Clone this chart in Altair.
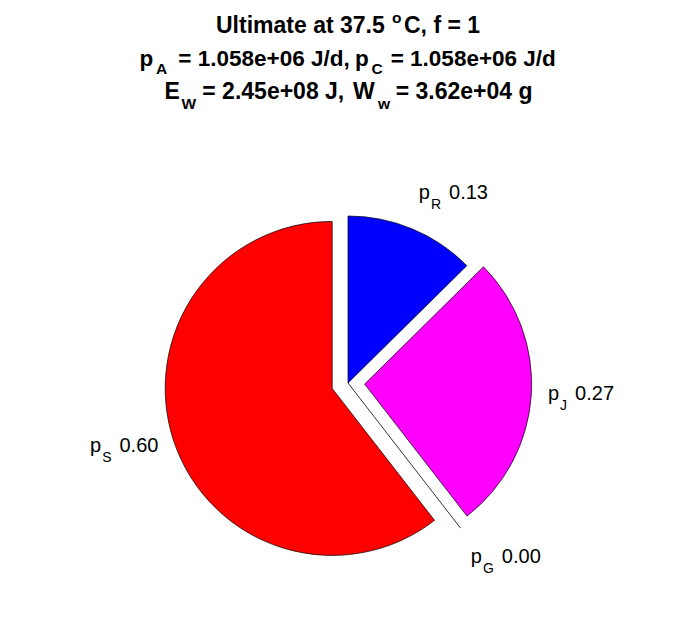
import altair as alt
import pandas as pd
import numpy as np

# ---------------- data ----------------
names = ["R", "J", "G", "S"]
fractions = [0.126, 0.269, 0.0, 0.605]
value_labels = ["0.13", "0.27", "0.00", "0.60"]
colors = ["#0000FF", "#FF00FF", "#FFFF00", "#FF0000"]
explode = [0, 1, 1, 1]

title_line1 = ["Ultimate at 37.5", "o", "C, f = 1"]
title_line2 = ["p", "A", "= 1.058e+06 J/d,", "p", "C", "= 1.058e+06 J/d"]
title_line3 = ["E", "W", "= 2.45e+08 J,", "W", "w", "= 3.62e+04 g"]

# ---------------- layout / style ----------------
W, H = 680, 600
R_PX = 167
CX, CY = 340, 375
FONT = "Liberation Sans"
LBL = 20
SUBL = 14
TFS1 = 23
TFS = 22.5
TSUB = 15.5
# Arial advance widths (em) for the subscript letters
sub_w = {"R": 0.722, "J": 0.5, "G": 0.778, "S": 0.667}

xs = alt.Scale(domain=[-CX / R_PX, (W - CX) / R_PX], nice=False, zero=False)
ys = alt.Scale(domain=[-(H - CY) / R_PX, CY / R_PX], nice=False, zero=False)

frac = np.array(fractions)
cum = np.concatenate([[0.0], np.cumsum(frac)])
t0 = cum[:-1] * 2 * np.pi
t1 = cum[1:] * 2 * np.pi
mid = (t0 + t1) / 2
ex = np.array(explode) * 0.1
cx = ex * np.sin(mid)
cy = ex * np.cos(mid)

df = pd.DataFrame(dict(name=names, t0=t0, t1=t1, cx=cx, cy=cy,
                       color=colors, frac=frac, val=value_labels,
                       ax=cx + 1.1 * np.sin(mid), ay=cy + 1.1 * np.cos(mid),
                       sx=np.sin(mid), cyy=np.cos(mid)))

layers = []

arcs = alt.Chart(df[df.frac > 0]).mark_arc(
    stroke="black", strokeWidth=0.7, radius=R_PX
).encode(
    x=alt.X("cx:Q", scale=xs, axis=None),
    y=alt.Y("cy:Q", scale=ys, axis=None),
    theta=alt.Theta("t0:Q", scale=None),
    theta2="t1:Q",
    color=alt.Color("color:N", scale=None),
)
layers.append(arcs)

zero = df[df.frac == 0].copy()
zero["x0"] = 0.0
zero["y0"] = 0.0
zero["x1"] = zero.cx + np.sin(zero.t0)
zero["y1"] = zero.cy + np.cos(zero.t0)
rule = alt.Chart(zero).mark_rule(color="black", strokeWidth=0.8).encode(
    x=alt.X("x0:Q", scale=xs, axis=None),
    y=alt.Y("y0:Q", scale=ys, axis=None),
    x2="x1:Q",
    y2="y1:Q",
)
layers.append(rule)

# ---------------- slice labels ----------------
for i, row in df.iterrows():
    d = pd.DataFrame([row])
    if row.cyy > 0.7:
        dy = -15
    elif row.cyy < -0.7:
        dy = 22
    else:
        dy = 4
    left = row.sx >= 0
    wp = 0.556 * LBL
    ws = sub_w[row["name"]] * SUBL
    wv = (0.556 * 3 + 0.278) * LBL
    gap = 8
    if left:
        pieces = [("p", LBL, 0, 0, "left"),
                  ("name", SUBL, wp + 1, 10, "left"),
                  ("val", LBL, wp + 1 + ws + gap, 0, "left")]
    else:
        pieces = [("val", LBL, 0, 0, "right"),
                  ("name", SUBL, -(wv + gap), 10, "right"),
                  ("p", LBL, -(wv + gap + ws + 1), 0, "right")]
    for field, fs, dxx, dyy, al in pieces:
        dd = d.copy()
        dd["p"] = "p"
        layers.append(
            alt.Chart(dd).mark_text(
                font=FONT, fontSize=fs, align=al, baseline="alphabetic",
                dx=dxx, dy=dy + dyy, color="black"
            ).encode(
                x=alt.X("ax:Q", scale=xs, axis=None),
                y=alt.Y("ay:Q", scale=ys, axis=None),
                text=alt.Text(f"{field}:N"),
            )
        )

# ---------------- title (rich text pieces) ----------------
def tpiece(txt, x, y, fs):
    return alt.Chart(pd.DataFrame({"t": [txt]})).mark_text(
        font=FONT, fontSize=fs, fontWeight="bold", align="left",
        baseline="alphabetic", color="black"
    ).encode(x=alt.value(x), y=alt.value(y), text="t:N")

L1, L2, L3 = 25.3, 58.3, 91.3
S2, S3 = 7.7, 10
layers += [
    tpiece(title_line1[0], 208.0, L1, TFS1),
    tpiece(title_line1[1], 384.0, L1 - 10, TSUB),
    tpiece(title_line1[2], 396.0, L1, TFS1),
    tpiece(title_line2[0], 131.5, L2, TFS),
    tpiece(title_line2[1], 148.0, L2 + S2, TSUB),
    tpiece(title_line2[2], 170.3, L2, TFS),
    tpiece(title_line2[3], 347.0, L2, TFS),
    tpiece(title_line2[4], 363.5, L2 + S2, TSUB),
    tpiece(title_line2[5], 382.7, L2, TFS),
    tpiece(title_line3[0], 156.5, L3, TFS1),
    tpiece(title_line3[1], 173.5, L3 + S3, TSUB),
    tpiece(title_line3[2], 194.3, L3, TFS1),
    tpiece(title_line3[3], 345.0, L3, TFS1),
    tpiece(title_line3[4], 370.0, L3 + S3, TSUB),
    tpiece(title_line3[5], 387.7, L3, TFS1),
]

chart = alt.layer(*layers).properties(
    width=W, height=H, padding=0, background="white"
).configure_view(stroke=None)

chart.save("out.html", embed_options={"renderer": "svg", "actions": False})
